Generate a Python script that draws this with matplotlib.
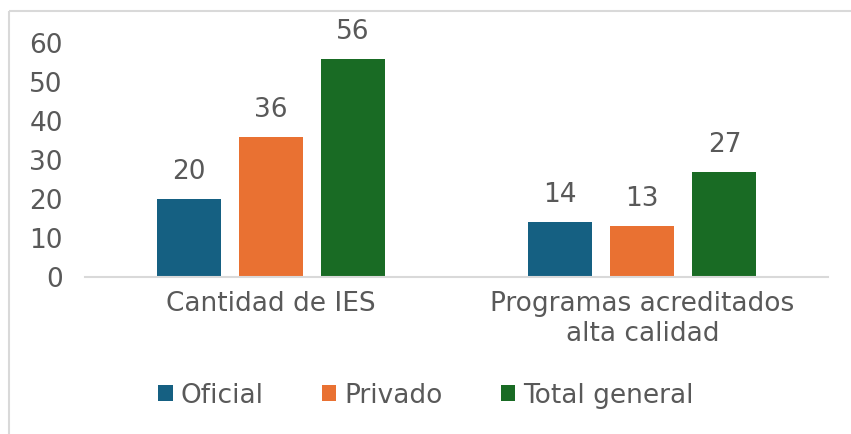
import numpy as np
import matplotlib.pyplot as plt
from matplotlib.lines import Line2D

# Datos
categorias = ["Cantidad de IES", "Programas acreditados\nalta calidad"]
series = ["Oficial", "Privado", "Total general"]
oficial = [20, 14]
privado = [36, 13]
total = [56, 27]
colores = ["#156082", "#E97132", "#196B24"]

gris = "#595959"
tam = 19
plt.rcParams['font.family'] = ['DejaVu Sans']

fig = plt.figure(figsize=(8.51, 4.34), dpi=100)
ax = fig.add_axes([0.100, 0.362, 0.873, 0.539])

x = np.arange(len(categorias))
ancho = 0.172
paso = 0.221
for i, (nombre, vals) in enumerate(zip(series, [oficial, privado, total])):
    barras = ax.bar(x + (i - 1) * paso, vals, ancho, color=colores[i], label=nombre)
    for b, v in zip(barras, vals):
        ax.annotate(str(v), (b.get_x() + b.get_width() / 2, v), xytext=(0, 10),
                    textcoords="offset points", ha="center", va="bottom",
                    fontsize=tam, color=gris)

ax.set_xlim(-0.5, 1.5)
ax.set_ylim(0, 60)
ax.set_yticks(range(0, 61, 10))
ax.set_xticks(x)
ax.set_xticklabels(categorias, fontsize=tam, color=gris, linespacing=1.2)
ax.tick_params(axis="y", labelsize=tam, labelcolor=gris, length=0, pad=16)
ax.tick_params(axis="x", length=0, pad=10)
for s in ["top", "right", "left"]:
    ax.spines[s].set_visible(False)
ax.spines["bottom"].set_color("#d9d9d9")
ax.spines["bottom"].set_linewidth(1.5)

ax.legend(loc="center", bbox_to_anchor=(0.459, -0.508), ncol=3, frameon=False,
          fontsize=tam, labelcolor=gris, handlelength=0.55, handleheight=0.55,
          handletextpad=0.3, columnspacing=2.2)

# marco del grafico
fig.add_artist(Line2D([9 / 851, 9 / 851], [0, 1 - 11 / 434], color="#d9d9d9", lw=1.5,
                      solid_capstyle="butt", transform=fig.transFigure))
fig.add_artist(Line2D([9 / 851, 1], [1 - 11 / 434, 1 - 11 / 434], color="#d9d9d9", lw=1.5,
                      solid_capstyle="butt", transform=fig.transFigure))

fig.savefig("out.png", dpi=100)
